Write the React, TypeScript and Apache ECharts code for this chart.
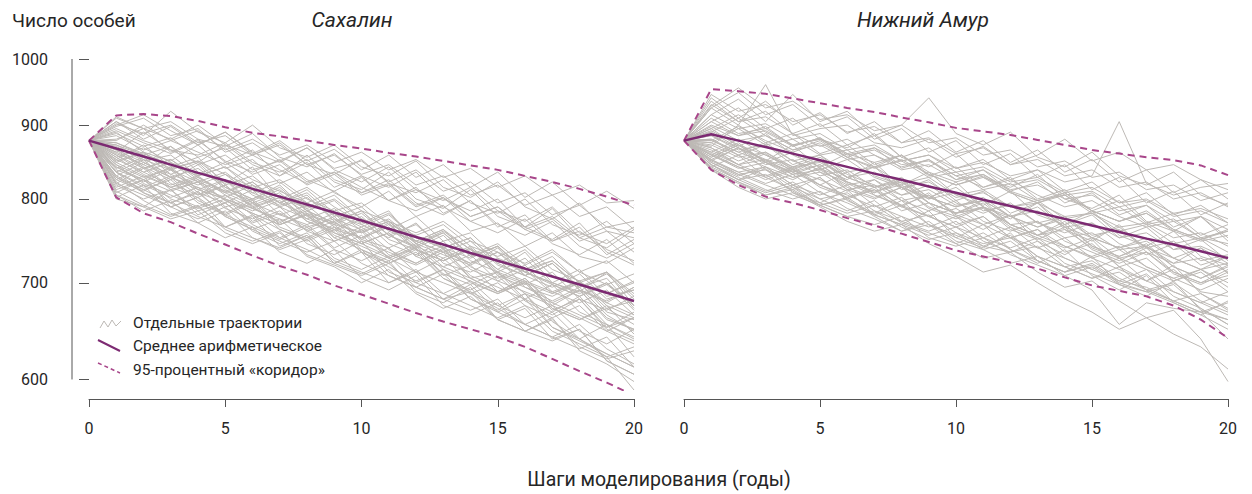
import React, { useEffect, useRef } from "react";
import * as echarts from "echarts";

const steps = [0, 1, 2, 3, 4, 5, 6, 7, 8, 9, 10, 11, 12, 13, 14, 15, 16, 17, 18, 19, 20];
const yTicks = [600, 700, 800, 900, 1000];
const xTicks = [0, 5, 10, 15, 20];
const panelTitles = ["Сахалин", "Нижний Амур"];
const yAxisTitle = "Число особей";
const xAxisTitle = "Шаги моделирования (годы)";
const legendLabels = ["Отдельные траектории", "Среднее арифметическое", "95-процентный «коридор»"];

const sakhalinMean = [878, 867, 856, 845, 834, 824, 813, 803, 793, 783, 773, 763, 753, 744, 734, 725, 716, 707, 698, 689, 680];
const sakhalinUpper = [878, 914, 916, 913, 906, 897, 889, 884, 878, 872, 867, 861, 856, 850, 844, 838, 830, 822, 813, 803, 792];
const sakhalinLower = [878, 802, 782, 771, 757, 744, 731, 719, 709, 697, 687, 677, 667, 658, 650, 642, 632, 620, 608, 597, 585];

const amurMean = [878, 887, 878, 869, 860, 851, 842, 833, 825, 816, 808, 799, 791, 783, 775, 767, 759, 751, 744, 736, 728];
const amurUpper = [878, 953, 950, 946, 939, 932, 925, 919, 911, 904, 896, 891, 886, 879, 872, 865, 860, 855, 851, 844, 831];
const amurLower = [878, 838, 818, 803, 795, 786, 776, 767, 757, 747, 737, 730, 723, 716, 706, 697, 691, 685, 675, 660, 641];

const sakhalinRuns = [
  [878, 905, 880, 898, 872, 890, 860, 878, 850, 866, 838, 858, 828, 845, 815, 835, 802, 822, 792, 810, 788],
  [878, 815, 830, 790, 802, 765, 778, 742, 755, 722, 735, 700, 712, 682, 690, 660, 672, 640, 650, 618, 605],
  [878, 860, 845, 870, 835, 820, 842, 800, 815, 790, 770, 785, 745, 760, 738, 715, 735, 700, 690, 712, 675],
  [878, 890, 862, 850, 872, 840, 852, 820, 835, 808, 790, 810, 778, 792, 760, 770, 742, 758, 730, 722, 740],
  [878, 835, 852, 820, 805, 825, 790, 770, 788, 752, 765, 738, 722, 740, 705, 712, 688, 675, 692, 660, 650],
  [878, 912, 895, 905, 880, 870, 888, 855, 842, 860, 830, 815, 835, 800, 785, 800, 765, 750, 770, 735, 720],
  [878, 805, 790, 812, 780, 795, 770, 782, 765, 775, 750, 768, 742, 758, 732, 745, 720, 735, 712, 725, 700],
  [878, 870, 850, 858, 830, 842, 812, 795, 808, 778, 790, 760, 748, 762, 730, 742, 712, 700, 715, 685, 692],
  [878, 898, 910, 885, 895, 862, 875, 850, 868, 840, 850, 822, 838, 810, 822, 795, 808, 780, 792, 765, 772],
  [878, 828, 808, 795, 810, 778, 762, 775, 745, 732, 748, 712, 700, 715, 682, 670, 688, 652, 640, 655, 622],
  [878, 852, 872, 842, 855, 818, 830, 802, 790, 805, 775, 762, 778, 748, 758, 728, 715, 730, 700, 688, 702],
  [878, 880, 895, 862, 880, 848, 865, 830, 848, 815, 830, 798, 815, 782, 798, 765, 780, 748, 765, 732, 750],
  [878, 842, 822, 838, 808, 795, 812, 780, 768, 782, 750, 740, 755, 722, 712, 728, 695, 685, 700, 668, 660],
  [878, 905, 885, 920, 890, 875, 900, 868, 855, 872, 842, 830, 850, 815, 802, 822, 790, 775, 795, 760, 752],
  [878, 802, 818, 782, 770, 785, 752, 740, 755, 722, 710, 725, 690, 678, 695, 660, 648, 662, 628, 615, 598],
  [878, 865, 840, 852, 828, 810, 822, 795, 812, 782, 765, 780, 752, 740, 752, 722, 738, 708, 695, 710, 682],
  [878, 888, 870, 882, 855, 868, 838, 850, 822, 835, 808, 820, 792, 805, 778, 790, 762, 775, 748, 760, 735],
  [878, 820, 840, 812, 822, 790, 800, 768, 780, 748, 760, 728, 740, 708, 720, 690, 700, 670, 682, 652, 662],
  [878, 848, 862, 832, 848, 815, 800, 818, 785, 798, 768, 752, 770, 738, 722, 740, 708, 722, 692, 678, 695],
  [878, 892, 875, 860, 878, 850, 835, 852, 825, 810, 828, 798, 785, 802, 772, 758, 775, 745, 732, 750, 722],
  [878, 838, 825, 842, 812, 800, 788, 802, 772, 760, 775, 745, 732, 748, 718, 705, 720, 690, 678, 692, 665],
  [878, 902, 888, 900, 875, 885, 858, 872, 845, 858, 832, 845, 818, 830, 805, 818, 792, 805, 778, 790, 762],
  [878, 855, 832, 815, 825, 798, 782, 768, 780, 752, 738, 722, 735, 705, 690, 675, 688, 658, 640, 625, 612],
  [878, 875, 858, 840, 850, 832, 815, 825, 800, 785, 795, 768, 755, 768, 742, 730, 742, 715, 702, 712, 688],
  [878, 862, 890, 865, 848, 872, 845, 830, 858, 825, 812, 835, 800, 788, 812, 778, 765, 788, 752, 740, 762],
  [878, 830, 848, 828, 815, 802, 818, 790, 775, 762, 778, 750, 738, 725, 740, 712, 700, 688, 702, 675, 662],
  [878, 878, 900, 878, 892, 865, 880, 858, 872, 848, 862, 838, 852, 828, 840, 815, 830, 805, 818, 795, 798],
  [878, 808, 825, 800, 788, 800, 772, 785, 760, 772, 745, 758, 730, 742, 715, 702, 715, 688, 700, 672, 680],
  [878, 858, 835, 848, 822, 835, 808, 792, 805, 772, 785, 755, 768, 740, 752, 722, 708, 722, 695, 705, 672],
  [878, 885, 865, 878, 862, 845, 858, 838, 820, 835, 815, 798, 812, 790, 772, 785, 762, 748, 760, 738, 725],
  [878, 845, 820, 805, 790, 805, 780, 762, 748, 762, 735, 718, 702, 715, 688, 672, 655, 668, 640, 622, 590],
  [878, 868, 842, 825, 845, 812, 795, 808, 778, 762, 752, 770, 738, 725, 740, 708, 695, 680, 695, 665, 648],
  [878, 895, 878, 865, 858, 875, 848, 835, 852, 822, 808, 825, 795, 780, 798, 768, 755, 772, 742, 728, 745],
  [878, 855, 868, 848, 832, 848, 825, 810, 795, 810, 785, 772, 758, 772, 748, 735, 722, 738, 712, 698, 710],
  [878, 825, 810, 828, 798, 782, 798, 765, 752, 768, 738, 725, 740, 710, 698, 712, 682, 668, 685, 655, 640],
  [878, 910, 895, 880, 900, 872, 858, 875, 845, 832, 852, 820, 808, 825, 795, 782, 800, 768, 755, 772, 745],
  [878, 848, 830, 815, 828, 808, 792, 805, 782, 768, 758, 772, 748, 735, 722, 735, 712, 698, 685, 698, 675],
  [878, 872, 858, 870, 845, 858, 832, 845, 818, 832, 805, 818, 790, 802, 778, 790, 765, 778, 752, 765, 758],
  [878, 835, 815, 830, 805, 818, 790, 802, 775, 788, 760, 772, 745, 758, 730, 742, 715, 725, 700, 712, 685],
  [878, 900, 915, 892, 872, 890, 862, 848, 868, 838, 822, 842, 812, 798, 815, 785, 772, 790, 758, 745, 765],
  [878, 830, 812, 825, 795, 780, 795, 762, 750, 765, 735, 722, 738, 705, 692, 708, 680, 665, 682, 650, 638],
  [878, 852, 835, 818, 830, 805, 788, 772, 785, 758, 745, 730, 745, 718, 705, 690, 705, 678, 665, 652, 668],
  [878, 818, 800, 812, 785, 795, 768, 752, 768, 740, 755, 728, 712, 728, 700, 688, 702, 672, 660, 675, 645],
  [878, 862, 845, 828, 840, 815, 800, 815, 785, 770, 785, 755, 740, 755, 725, 712, 728, 698, 685, 700, 670],
  [878, 840, 855, 828, 812, 825, 795, 780, 792, 765, 752, 765, 738, 725, 738, 710, 698, 712, 682, 670, 685],
  [878, 810, 792, 778, 790, 765, 752, 738, 750, 725, 712, 700, 715, 688, 675, 662, 675, 648, 635, 622, 632],
  [878, 872, 852, 838, 850, 822, 808, 822, 795, 780, 768, 782, 752, 740, 728, 742, 712, 700, 688, 700, 675],
  [878, 845, 828, 840, 812, 800, 785, 798, 772, 758, 745, 758, 730, 718, 732, 702, 690, 678, 692, 662, 650],
  [878, 825, 842, 815, 802, 818, 788, 775, 762, 778, 748, 735, 722, 738, 708, 695, 682, 698, 668, 655, 642],
  [878, 858, 840, 852, 825, 810, 798, 812, 785, 770, 758, 772, 745, 732, 720, 735, 708, 695, 710, 682, 692],
  [878, 835, 818, 802, 815, 788, 775, 790, 760, 748, 762, 732, 720, 735, 705, 690, 705, 675, 662, 648, 662],
  [878, 865, 848, 832, 818, 832, 805, 790, 802, 775, 762, 775, 748, 735, 748, 720, 708, 722, 692, 680, 695],
  [878, 820, 805, 790, 802, 778, 762, 748, 735, 748, 722, 708, 695, 710, 682, 668, 682, 652, 638, 625, 612],
  [878, 850, 862, 838, 822, 808, 822, 795, 780, 768, 782, 755, 742, 728, 742, 715, 702, 690, 702, 678, 665],
  [878, 842, 825, 810, 822, 798, 782, 768, 782, 755, 742, 728, 742, 715, 702, 688, 700, 672, 660, 672, 655],
  [878, 875, 860, 845, 830, 842, 818, 802, 788, 800, 775, 762, 748, 762, 738, 725, 712, 725, 700, 688, 700],
  [878, 805, 785, 798, 770, 752, 765, 735, 722, 738, 705, 692, 708, 675, 665, 678, 648, 638, 650, 618, 605],
  [878, 822, 798, 780, 792, 762, 748, 760, 730, 718, 700, 715, 688, 672, 685, 660, 648, 660, 632, 620, 628],
  [878, 812, 825, 795, 778, 765, 780, 752, 738, 722, 738, 708, 695, 682, 698, 668, 655, 642, 655, 630, 615],
  [878, 835, 808, 790, 775, 790, 760, 745, 758, 728, 715, 730, 700, 688, 702, 675, 662, 675, 648, 635, 650],
  [878, 800, 790, 775, 785, 758, 745, 758, 732, 720, 708, 722, 695, 682, 670, 682, 655, 642, 630, 642, 612],
  [878, 828, 812, 795, 808, 780, 765, 750, 765, 738, 725, 740, 712, 700, 688, 700, 675, 662, 675, 648, 635],
];

const amurRuns = [
  [878, 940, 910, 935, 900, 918, 888, 905, 875, 892, 862, 878, 848, 865, 835, 852, 822, 838, 808, 825, 800],
  [878, 850, 868, 838, 825, 842, 812, 800, 815, 788, 775, 790, 762, 750, 765, 738, 725, 740, 712, 700, 715],
  [878, 895, 870, 888, 858, 842, 860, 830, 818, 835, 805, 792, 810, 780, 768, 785, 755, 742, 760, 730, 720],
  [878, 870, 900, 875, 888, 860, 872, 845, 858, 830, 842, 815, 828, 800, 812, 785, 798, 770, 782, 755, 768],
  [878, 925, 948, 915, 930, 898, 912, 880, 895, 862, 878, 845, 860, 828, 845, 812, 828, 795, 810, 780, 795],
  [878, 845, 825, 840, 808, 795, 812, 780, 768, 785, 752, 740, 758, 725, 712, 730, 698, 685, 702, 670, 660],
  [878, 905, 925, 895, 910, 880, 868, 888, 855, 842, 860, 828, 815, 832, 800, 788, 805, 772, 760, 778, 748],
  [878, 880, 858, 872, 845, 858, 828, 842, 812, 825, 798, 810, 782, 795, 768, 780, 752, 765, 738, 750, 725],
  [878, 915, 938, 905, 945, 905, 920, 885, 900, 940, 888, 872, 890, 855, 842, 862, 830, 818, 835, 805, 792],
  [878, 858, 875, 848, 835, 852, 822, 808, 825, 795, 782, 798, 768, 755, 772, 742, 730, 745, 718, 705, 720],
  [878, 890, 868, 850, 872, 840, 825, 848, 815, 800, 822, 790, 775, 795, 762, 748, 768, 735, 722, 740, 710],
  [878, 935, 905, 920, 888, 902, 872, 885, 855, 868, 840, 852, 825, 838, 810, 822, 795, 808, 780, 792, 770],
  [878, 842, 858, 828, 812, 828, 798, 782, 798, 768, 752, 768, 738, 722, 738, 708, 692, 708, 678, 665, 680],
  [878, 900, 885, 898, 870, 882, 855, 868, 840, 852, 825, 838, 810, 822, 795, 808, 780, 792, 765, 778, 752],
  [878, 868, 845, 860, 835, 818, 835, 805, 790, 808, 778, 762, 780, 748, 732, 750, 718, 702, 720, 688, 672],
  [878, 928, 955, 925, 935, 908, 915, 892, 900, 875, 882, 858, 865, 842, 850, 828, 835, 812, 818, 798, 808],
  [878, 875, 895, 872, 880, 858, 865, 842, 850, 828, 835, 812, 820, 798, 805, 782, 790, 768, 775, 752, 760],
  [878, 852, 835, 842, 818, 828, 800, 812, 785, 795, 768, 778, 752, 762, 735, 745, 718, 728, 702, 712, 690],
  [878, 910, 888, 895, 872, 880, 858, 865, 845, 850, 830, 838, 818, 825, 805, 810, 790, 798, 778, 785, 770],
  [878, 862, 880, 858, 840, 850, 828, 815, 825, 802, 790, 798, 778, 765, 775, 752, 740, 748, 728, 715, 722],
  [878, 895, 915, 890, 870, 882, 860, 848, 858, 835, 822, 832, 810, 798, 808, 785, 772, 782, 760, 748, 755],
  [878, 848, 832, 838, 815, 800, 808, 785, 772, 780, 758, 745, 752, 730, 718, 725, 705, 692, 700, 680, 668],
  [878, 930, 905, 912, 888, 870, 880, 858, 842, 852, 830, 815, 825, 805, 790, 798, 778, 765, 772, 752, 745],
  [878, 885, 865, 872, 850, 858, 835, 842, 820, 828, 805, 812, 790, 798, 775, 782, 760, 768, 745, 752, 735],
  [878, 858, 840, 848, 828, 835, 812, 818, 798, 805, 782, 788, 768, 772, 752, 758, 738, 742, 722, 728, 712],
  [878, 915, 895, 902, 880, 888, 865, 872, 850, 858, 835, 842, 822, 828, 808, 815, 795, 800, 782, 788, 775],
  [878, 845, 825, 832, 810, 792, 800, 778, 760, 768, 745, 728, 735, 712, 695, 702, 680, 662, 670, 640, 598],
  [878, 872, 855, 862, 842, 848, 828, 835, 815, 822, 802, 808, 790, 795, 778, 782, 765, 770, 752, 758, 742],
  [878, 898, 878, 885, 865, 872, 852, 858, 838, 845, 825, 832, 812, 818, 800, 805, 785, 792, 772, 778, 762],
  [878, 852, 868, 845, 852, 830, 838, 815, 822, 800, 808, 785, 792, 770, 778, 755, 762, 740, 748, 725, 732],
  [878, 905, 885, 892, 872, 880, 860, 868, 850, 858, 840, 848, 830, 838, 822, 830, 905, 820, 805, 815, 820],
  [878, 840, 822, 805, 812, 792, 778, 785, 765, 750, 758, 738, 722, 730, 708, 692, 655, 678, 672, 668, 640],
  [878, 925, 900, 960, 885, 895, 900, 875, 868, 880, 855, 870, 845, 858, 880, 850, 862, 838, 845, 825, 812],
  [878, 865, 845, 852, 832, 838, 818, 825, 805, 812, 792, 798, 778, 785, 765, 770, 752, 758, 738, 742, 728],
  [878, 838, 815, 800, 808, 790, 772, 760, 768, 745, 730, 712, 720, 700, 682, 668, 650, 662, 645, 632, 610],
  [878, 890, 910, 885, 865, 878, 855, 842, 858, 832, 818, 830, 808, 795, 808, 785, 772, 785, 762, 750, 762],
  [878, 860, 842, 825, 838, 818, 802, 812, 792, 778, 788, 768, 752, 762, 742, 728, 738, 718, 705, 715, 695],
  [878, 945, 920, 930, 905, 915, 890, 898, 875, 882, 860, 868, 845, 852, 830, 838, 815, 822, 800, 808, 790],
  [878, 878, 898, 878, 862, 875, 855, 840, 852, 832, 818, 828, 808, 795, 805, 785, 772, 782, 762, 750, 760],
  [878, 855, 872, 850, 835, 845, 822, 810, 818, 795, 782, 790, 768, 755, 762, 740, 728, 735, 712, 700, 708],
  [878, 862, 845, 830, 842, 818, 805, 790, 802, 778, 765, 752, 765, 740, 728, 715, 728, 702, 690, 678, 690],
  [878, 875, 858, 842, 828, 840, 815, 802, 815, 790, 778, 790, 765, 752, 740, 752, 728, 715, 702, 715, 700],
  [878, 848, 830, 842, 818, 805, 818, 792, 778, 765, 778, 752, 740, 752, 728, 715, 702, 715, 690, 678, 665],
  [878, 880, 862, 848, 862, 835, 822, 808, 822, 795, 782, 795, 768, 755, 768, 742, 730, 742, 718, 705, 718],
  [878, 855, 872, 848, 832, 845, 820, 805, 792, 805, 780, 768, 780, 755, 742, 730, 742, 718, 705, 692, 705],
  [878, 842, 825, 810, 822, 800, 785, 798, 772, 760, 772, 748, 735, 748, 722, 710, 698, 710, 685, 672, 655],
  [878, 892, 872, 858, 842, 855, 832, 818, 805, 818, 795, 782, 795, 770, 758, 770, 745, 732, 745, 720, 730],
  [878, 868, 850, 862, 838, 825, 810, 825, 798, 785, 798, 772, 760, 772, 748, 735, 722, 735, 710, 698, 712],
  [878, 850, 835, 820, 832, 808, 795, 780, 792, 768, 755, 742, 755, 730, 718, 705, 718, 692, 680, 668, 678],
  [878, 878, 862, 875, 850, 838, 852, 828, 815, 802, 815, 790, 778, 790, 765, 752, 765, 740, 728, 740, 722],
  [878, 858, 842, 828, 840, 815, 802, 815, 790, 778, 765, 778, 752, 740, 752, 728, 715, 702, 715, 690, 685],
  [878, 885, 868, 852, 838, 852, 828, 815, 828, 802, 790, 802, 778, 765, 778, 752, 740, 752, 728, 715, 730],
  [878, 838, 820, 805, 815, 792, 778, 768, 778, 752, 742, 752, 732, 720, 708, 718, 698, 690, 698, 672, 655],
  [878, 845, 828, 812, 800, 810, 788, 775, 760, 772, 748, 738, 748, 725, 712, 720, 700, 690, 678, 665, 650],
  [878, 852, 832, 818, 805, 792, 802, 780, 768, 755, 765, 742, 735, 742, 718, 705, 712, 692, 680, 668, 660],
  [878, 840, 822, 808, 818, 795, 782, 792, 770, 758, 745, 758, 738, 725, 712, 722, 702, 695, 680, 688, 670],
];

const FONT = "Roboto, 'Noto Sans', sans-serif";
const GRAY = "#bdb9b5";
const MEAN_COLOR = "#7c2a72";
const CORRIDOR_COLOR = "#a8468a";
const TEXT_COLOR = "#262626";
const AXIS_COLOR = "#555";

const toPoints = (vals: number[]) => vals.map((v, i) => [steps[i], Math.log10(v)]);

function buildPanelSeries(runs: number[][], mean: number[], upper: number[], lower: number[], idx: number) {
  const list: any[] = [];
  runs.forEach((r, k) => {
    list.push({
      type: "line",
      name: "run" + idx + "_" + k,
      xAxisIndex: idx,
      yAxisIndex: idx,
      data: toPoints(r),
      showSymbol: false,
      silent: true,
      z: 1,
      lineStyle: { color: GRAY, width: 1 },
    });
  });
  [upper, lower].forEach((b, k) => {
    list.push({
      type: "line",
      name: "corr" + idx + "_" + k,
      xAxisIndex: idx,
      yAxisIndex: idx,
      data: toPoints(b),
      showSymbol: false,
      silent: true,
      z: 3,
      lineStyle: { color: CORRIDOR_COLOR, width: 2, type: [7, 5] },
    });
  });
  list.push({
    type: "line",
    name: "mean" + idx,
    xAxisIndex: idx,
    yAxisIndex: idx,
    data: toPoints(mean),
    showSymbol: false,
    silent: true,
    z: 4,
    lineStyle: { color: MEAN_COLOR, width: 2.5 },
  });
  return list;
}

const logTicks = yTicks.map((v) => Math.log10(v));

export default function App() {
  const ref = useRef<HTMLDivElement>(null);
  useEffect(() => {
    if (!ref.current) return;
    const chart = echarts.init(ref.current, undefined, { renderer: "svg" });
    const yMin = Math.log10(590);
    const yMax = Math.log10(1000);
    const grids = [
      { left: 89, top: 59, width: 545, height: 331 },
      { left: 684, top: 59, width: 544, height: 331 },
    ];
    const xAxes = [0, 1].map((i) => ({
      type: "value",
      gridIndex: i,
      min: xTicks[0],
      max: xTicks[xTicks.length - 1],
      interval: 5,
      offset: 9,
      axisLine: { show: true, lineStyle: { color: AXIS_COLOR, width: 1 } },
      axisTick: { show: true, length: 8, lineStyle: { color: AXIS_COLOR } },
      axisLabel: { show: true, margin: 21, fontSize: 16, color: TEXT_COLOR, fontFamily: FONT },
      splitLine: { show: false },
    }));
    const yAxes = [0, 1].map((i) => ({
      type: "value",
      gridIndex: i,
      min: yMin,
      max: yMax,
      show: i === 0,
      offset: 17,
      axisLine: { show: false },
      axisTick: { show: true, length: 10, customValues: logTicks, lineStyle: { color: AXIS_COLOR } },
      axisLabel: {
        show: true,
        margin: 24,
        customValues: logTicks,
        fontSize: 16,
        color: TEXT_COLOR,
        fontFamily: FONT,
        formatter: (v: number) => String(Math.round(Math.pow(10, v))),
      },
      splitLine: { show: false },
    }));

    const series = [
      ...buildPanelSeries(sakhalinRuns, sakhalinMean, sakhalinUpper, sakhalinLower, 0),
      ...buildPanelSeries(amurRuns, amurMean, amurUpper, amurLower, 1),
    ];

    const legendX = 133;
    const legendGraphics: any[] = [
      {
        type: "polyline",
        shape: { points: [[100, 328], [104, 321], [108, 327], [112, 320], [116, 326], [121, 321]] },
        style: { stroke: GRAY, lineWidth: 1, fill: null },
      },
      {
        type: "line",
        shape: { x1: 98, y1: 340, x2: 120, y2: 351 },
        style: { stroke: MEAN_COLOR, lineWidth: 2 },
      },
      {
        type: "line",
        shape: { x1: 98, y1: 363, x2: 120, y2: 373 },
        style: { stroke: CORRIDOR_COLOR, lineWidth: 1.5, lineDash: [4, 3] },
      },
      ...legendLabels.map((t, k) => ({
        type: "text",
        x: legendX,
        y: [323, 346, 370][k],
        style: { text: t, fontSize: 15.5, fill: TEXT_COLOR, fontFamily: FONT, verticalAlign: "middle", align: "left" },
      })),
      {
        type: "text",
        x: 12,
        y: 20,
        style: { text: yAxisTitle, fontSize: 19, fill: TEXT_COLOR, fontFamily: FONT, verticalAlign: "middle", align: "left" },
      },
      {
        type: "text",
        x: 352,
        y: 20,
        style: { text: panelTitles[0], fontSize: 21, fontStyle: "italic", fill: TEXT_COLOR, fontFamily: FONT, verticalAlign: "middle", align: "center" },
      },
      {
        type: "text",
        x: 923,
        y: 20,
        style: { text: panelTitles[1], fontSize: 21, fontStyle: "italic", fill: TEXT_COLOR, fontFamily: FONT, verticalAlign: "middle", align: "center" },
      },
      {
        type: "text",
        x: 659,
        y: 479,
        style: { text: xAxisTitle, fontSize: 19.5, fill: TEXT_COLOR, fontFamily: FONT, verticalAlign: "middle", align: "center" },
      },
    ];

    chart.setOption({
      animation: false,
      backgroundColor: "#ffffff",
      textStyle: { fontFamily: FONT },
      grid: grids,
      xAxis: xAxes,
      yAxis: yAxes,
      series,
      graphic: legendGraphics,
    });

    const yTop = chart.convertToPixel({ yAxisIndex: 0 }, logTicks[logTicks.length - 1]) as number;
    const yBot = chart.convertToPixel({ yAxisIndex: 0 }, logTicks[0]) as number;
    const xLeft = (chart.convertToPixel({ xAxisIndex: 0 }, xTicks[0]) as number) - 17;
    chart.setOption({
      graphic: [
        ...legendGraphics,
        {
          type: "line",
          shape: { x1: xLeft, y1: yTop, x2: xLeft, y2: yBot },
          style: { stroke: AXIS_COLOR, lineWidth: 1 },
        },
      ],
    });

    return () => chart.dispose();
  }, []);
  return <div ref={ref} style={{ position: "fixed", left: 0, top: 0, width: 1252, height: 494, background: "#fff" }} />;
}
